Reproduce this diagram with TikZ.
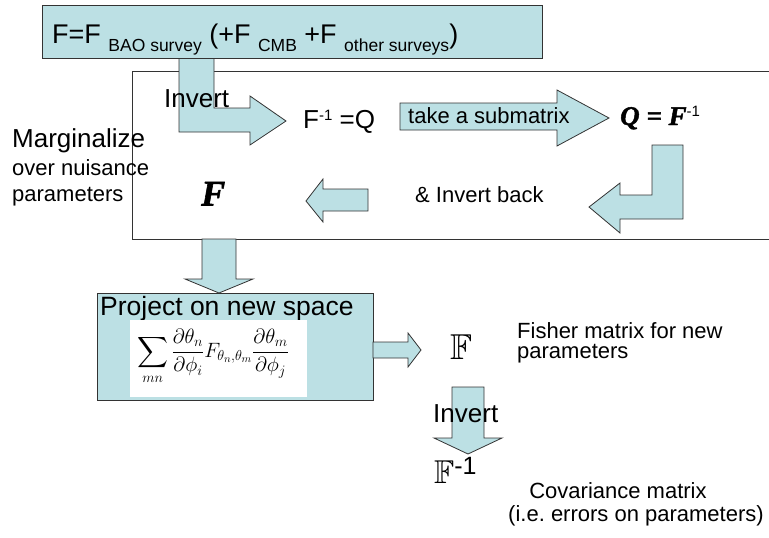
\documentclass[tikz,border=0pt]{standalone}
\usepackage{amsmath,amssymb}
\usepackage{fontspec}
\setmainfont{Liberation Sans}
\newfontfamily\bserif{Liberation Serif}[BoldItalicFeatures={FakeBold=1.6}]
\definecolor{boxblue}{RGB}{188,224,228}
\tikzset{
  blk/.style={fill=boxblue,draw=black!80,line width=0.8pt,line join=miter},
  frame/.style={draw=black!80,line width=0.8pt,inner sep=0pt,anchor=north west},
  t/.style={inner sep=0pt,font=\fontsize{22}{26}\selectfont},
  tb/.style={inner sep=0pt,font=\fontsize{26}{30}\selectfont},
}
\newcommand{\sbs}[1]{\raisebox{-8.5pt}{\fontsize{17.5}{17.5}\selectfont #1}}
\newcommand{\sps}[1]{\raisebox{8.5pt}{\fontsize{15}{15}\selectfont #1}}
\frenchspacing
\begin{document}
\begin{tikzpicture}[x=1pt,y=-1pt]
\useasboundingbox (0,0) rectangle (769,538);
% marginalize frame
\node[frame,minimum width=645pt,minimum height=168pt] (marg) at (132,71) {};
% L arrow from top box
\draw[blk] (179,40) -- (214,40) -- (214,108) -- (250,108) -- (250,96) -- (286,121)
  -- (250,145) -- (250,132) -- (179,132) -- cycle;
% top box
\node[frame,blk,minimum width=500pt,minimum height=53pt] (topbox) at (42,5) {};
\node[inner sep=0pt,anchor=base west,font=\fontsize{27}{30}\selectfont] (toptxt) at (52,43)
  {F=F \sbs{BAO survey} (+F \sbs{CMB} +F \sbs{other surveys})};
\node[tb,anchor=base west] (inv1) at (164,107.5) {Invert};
\node[inner sep=0pt,anchor=base west,font=\fontsize{26}{28}\selectfont] (finv) at (303,128.5) {F\sps{-1} =Q};
% take a submatrix arrow
\draw[blk] (400,103) -- (557,103) -- (557,90) -- (609,118) -- (557,146) -- (557,130) -- (400,130) -- cycle;
\node[t,anchor=base west] (sub) at (408,123.5) {take a submatrix};
\node[inner sep=0pt,anchor=base west,font=\fontsize{27}{28}\selectfont] (qf) at (620,125)
  {{\bserif\bfseries\itshape Q = F}\sps{-1}};
% L arrow down-left
\draw[blk] (652,145) -- (683,145) -- (683,219) -- (620,219) -- (620,233) -- (589,207)
  -- (620,183) -- (620,195) -- (652,195) -- cycle;
\node[t,anchor=base west] (back) at (415,202.5) {\& Invert back};
% left arrow
\draw[blk] (368,189) -- (323,189) -- (323,179) -- (306,201) -- (323,222) -- (323,211) -- (368,211) -- cycle;
\node[inner sep=0pt,anchor=base west,font=\fontsize{36}{36}\selectfont] (fb) at (201,205.5)
  {\bserif\bfseries\itshape F};
% marginalize text
\node[tb,anchor=base west] (m1) at (12,147) {Marginalize};
\node[t,anchor=base west] (m2) at (12,175) {over nuisance};
\node[t,anchor=base west] (m3) at (12,201.5) {parameters};
% down arrow 1
\draw[blk] (202,239) -- (236,239) -- (236,279) -- (253,279) -- (219,293) -- (185,279) -- (202,279) -- cycle;
% project box
\node[frame,blk,minimum width=276pt,minimum height=107pt] (proj) at (97,293) {};
\node[inner sep=0pt,anchor=base west,font=\fontsize{26.5}{30}\selectfont] (projt) at (100,315) {Project on new space};
\node[fill=white,inner sep=0pt,anchor=north west,minimum width=177pt,minimum height=77pt] (formbox) at (130,320) {};
\node[inner sep=0pt] (form) at (213,357)
  {\fontsize{21.5}{24}\selectfont$\displaystyle\sum_{mn}\frac{\partial\theta_n}{\partial\phi_i}F_{\theta_n,\theta_m}\frac{\partial\theta_m}{\partial\phi_j}$};
% right arrow
\draw[blk] (373,342) -- (408,342) -- (408,333) -- (421,350) -- (408,367) -- (408,358) -- (373,358) -- cycle;
\node[inner sep=0pt,font=\fontsize{36}{36}\selectfont] (bbf) at (461,347) {$\mathbb{F}$};
\node[t,anchor=base west] (fish1) at (517,338) {Fisher matrix for new};
\node[t,anchor=base west] (fish2) at (517,358.5) {parameters};
% down arrow 2
\draw[blk] (452,387) -- (484,387) -- (484,438) -- (502,438) -- (468,454) -- (434,438) -- (452,438) -- cycle;
\node[tb,anchor=base west] (inv2) at (433,422) {Invert};
\node[inner sep=0pt,anchor=base west,font=\fontsize{33}{33}\selectfont] (bbfi) at (434,483)
  {$\mathbb{F}$\raisebox{9pt}{\fontsize{25}{25}\selectfont -1}};
\node[t] (cov1) at (618,491) {Covariance matrix};
\node[t] (cov2) at (636,516) {(i.e. errors on parameters)};
\end{tikzpicture}
\end{document}
